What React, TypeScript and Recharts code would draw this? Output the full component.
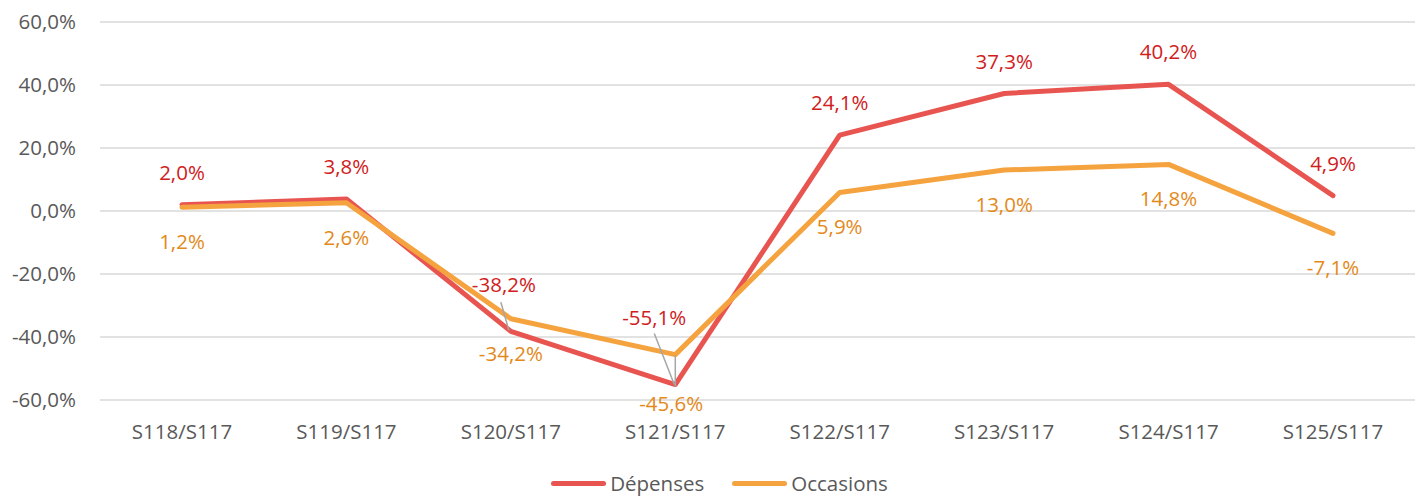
import { CartesianGrid, LabelList, Legend, Line, LineChart, XAxis, YAxis } from 'recharts'

const categories = ['S118/S117', 'S119/S117', 'S120/S117', 'S121/S117', 'S122/S117', 'S123/S117', 'S124/S117', 'S125/S117']
const depenses = [2.0, 3.8, -38.2, -55.1, 24.1, 37.3, 40.2, 4.9]
const occasions = [1.2, 2.6, -34.2, -45.6, 5.9, 13.0, 14.8, -7.1]
const yTicks = [-60, -40, -20, 0, 20, 40, 60]

const chartData = categories.map((name, i) => ({
  name,
  depenses: depenses[i],
  occasions: occasions[i],
}))

const FONT = '"Open Sans", sans-serif'
const FONT_SIZE = 20.5
const RED_LINE = '#E85550'
const RED_TEXT = '#D0201C'
const ORANGE_LINE = '#F5A33F'
const ORANGE_TEXT = '#E3891A'

const fmt = (v: number) => `${v.toFixed(1).replace('.', ',')}%`

// label placement: default offset above/below, a few labels moved with a leader line
type LabelPos = { dx: number; dy: number; leader?: [number, number, number, number] }
const depensesPos: Record<number, LabelPos> = {
  2: { dx: -7, dy: -47, leader: [-10, -29, -2, -1] },
  3: { dx: -21, dy: -68, leader: [-21, -51, -1, 0] },
}
const occasionsPos: Record<number, LabelPos> = {
  3: { dx: -4, dy: 48, leader: [0, 32, 0, 1] },
}

const makeLabel = (color: string, baseDy: number, special: Record<number, LabelPos>) =>
  (props: any) => {
    const { x, y, value, index } = props
    const pos = special[index] || { dx: 0, dy: baseDy }
    return (
      <g>
        {pos.leader && (
          <line
            x1={x + pos.leader[0]}
            y1={y + pos.leader[1]}
            x2={x + pos.leader[2]}
            y2={y + pos.leader[3]}
            stroke="#A6A6A6"
            strokeWidth={1.5}
          />
        )}
        <text
          x={x + pos.dx}
          y={y + pos.dy}
          textAnchor="middle"
          dominantBaseline="central"
          fill={color}
          fontSize={FONT_SIZE}
          fontFamily={FONT}
        >
          {fmt(value)}
        </text>
      </g>
    )
  }

const LegendContent = () => (
  <div
    style={{
      height: 40,
      display: 'flex',
      justifyContent: 'center',
      alignItems: 'center',
      paddingTop: 14,
      paddingLeft: 24,
      boxSizing: 'border-box',
      fontFamily: FONT,
      fontSize: FONT_SIZE,
      color: '#595959',
    }}
  >
    <span style={{ display: 'flex', alignItems: 'center', marginRight: 28 }}>
      <span style={{ width: 55, height: 5, borderRadius: 3, background: RED_LINE, marginRight: 4 }} />
      Dépenses
    </span>
    <span style={{ display: 'flex', alignItems: 'center' }}>
      <span style={{ width: 55, height: 5, borderRadius: 3, background: ORANGE_LINE, marginRight: 4 }} />
      Occasions
    </span>
  </div>
)

export default function App() {
  return (
    <div style={{ position: 'absolute', left: 0, top: 0, background: '#fff' }}>
      <LineChart width={1420} height={496} data={chartData} margin={{ top: 22, right: 5, left: 0, bottom: 0 }}>
        <CartesianGrid vertical={false} stroke="#D9D9D9" strokeWidth={1.5} />
        <XAxis
          dataKey="name"
          axisLine={false}
          tickLine={false}
          height={56}
          tickSize={0}
          tickMargin={24}
          padding={{ left: 82, right: 82 }}
          tick={{ fill: '#595959', fontSize: FONT_SIZE, fontFamily: FONT }}
          interval={0}
        />
        <YAxis
          domain={[-60, 60]}
          ticks={yTicks}
          width={100}
          axisLine={false}
          tickLine={false}
          tickSize={0}
          tickMargin={24}
          tickFormatter={fmt}
          tick={{ fill: '#595959', fontSize: FONT_SIZE, fontFamily: FONT }}
        />
        <Legend verticalAlign="bottom" height={40} content={<LegendContent />} />
        <Line
          dataKey="depenses"
          name="Dépenses"
          stroke={RED_LINE}
          strokeWidth={5}
          strokeLinecap="round"
          strokeLinejoin="round"
          dot={false}
          isAnimationActive={false}
        >
          <LabelList dataKey="depenses" content={makeLabel(RED_TEXT, -33, depensesPos)} />
        </Line>
        <Line
          dataKey="occasions"
          name="Occasions"
          stroke={ORANGE_LINE}
          strokeWidth={5}
          strokeLinecap="round"
          strokeLinejoin="round"
          dot={false}
          isAnimationActive={false}
        >
          <LabelList dataKey="occasions" content={makeLabel(ORANGE_TEXT, 34, occasionsPos)} />
        </Line>
      </LineChart>
    </div>
  )
}
